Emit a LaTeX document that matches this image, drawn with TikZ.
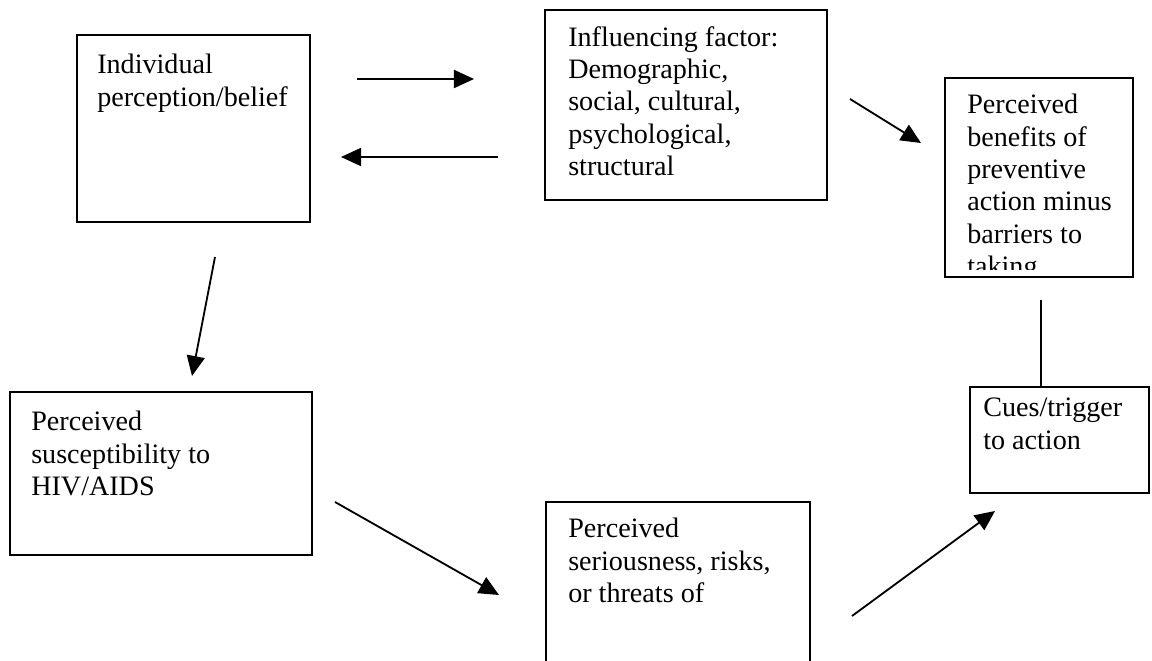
\documentclass[tikz,border=0pt]{standalone}
\usepackage{fontspec}
\setmainfont{Liberation Serif}
\usetikzlibrary{arrows.meta,fit}

\tikzset{
  box/.style={draw,line width=1.4pt,inner sep=0pt},
  txt/.style={anchor=north west,align=left,inner sep=0pt,font=\fontsize{20}{23}\selectfont},
  arr/.style={line width=1.3pt,-{Triangle[length=0.5cm,width=0.45cm]}}
}

\begin{document}
\begin{tikzpicture}[x=0.025cm,y=-0.025cm]
  \clip (0,0) rectangle (1152,661);
  % cajas
  \node[box,fit={(77,35) (310,222)}] (indiv) {};
  \node[txt] (indivtxt) at (97,54) {Individual\\perception/belief};
  \node[box,fit={(545,10) (827,200)}] (factor) {};
  \node[txt] (factortxt) at (568,26) {Influencing factor:\\Demographic,\\social, cultural,\\psychological,\\structural};
  \node[box,fit={(945,78) (1133,277)}] (benefit) {};
  \begin{scope}
    \clip (945,78) rectangle (1133,270);
    \node[txt] (benefittxt) at (967,94) {Perceived\\benefits of\\preventive\\action minus\\barriers to\\taking};
  \end{scope}
  \node[box,fit={(970,387) (1149,493)}] (cues) {};
  \node[txt] (cuestxt) at (983,398) {Cues/trigger\\to action};
  \node[box,fit={(10,392) (312,555)}] (suscept) {};
  \node[txt] (susctxt) at (31,411) {Perceived\\susceptibility to\\HIV/AIDS};
  \node[box,fit={(546,502) (810,700)}] (serious) {};
  \node[txt] (serioustxt) at (568,518) {Perceived\\seriousness, risks,\\or threats of};
  % flechas
  \coordinate (a1) at (357,79);  \coordinate (b1) at (474,79);
  \coordinate (a2) at (498,157); \coordinate (b2) at (341,157);
  \coordinate (a3) at (850,99);  \coordinate (b3) at (921,143);
  \coordinate (a4) at (215,257); \coordinate (b4) at (192,376);
  \coordinate (a5) at (335,502); \coordinate (b5) at (499,595);
  \coordinate (a6) at (852,616); \coordinate (b6) at (995,511);
  \coordinate (lk) at (1041,300);
  \draw[arr] (a1) -- (b1);
  \draw[arr] (a2) -- (b2);
  \draw[arr] (a3) -- (b3);
  \draw[arr] (a4) -- (b4);
  \draw[arr] (a5) -- (b5);
  \draw[arr] (a6) -- (b6);
  \draw[line width=1.3pt] (lk) -- (lk |- cues.north);
\end{tikzpicture}
\end{document}
